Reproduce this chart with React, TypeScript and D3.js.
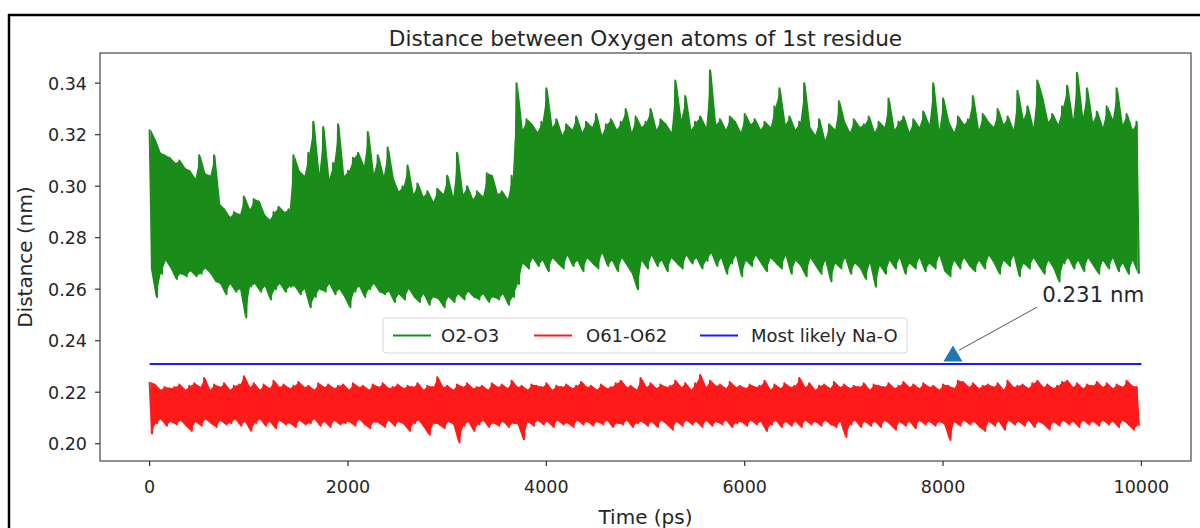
import React from "react";
import * as d3 from "d3";

// ---- data (nm), sampled every 50 ps; "Hi" = upper swing at t, "Lo" = lower swing at t+25 ----
const greenHi = [
  0.322, 0.318, 0.313, 0.312, 0.311, 0.309, 0.310, 0.307, 0.306, 0.303,
  0.312, 0.305, 0.304, 0.312, 0.293, 0.291, 0.288, 0.290, 0.289, 0.296,
  0.291, 0.295, 0.294, 0.289, 0.287, 0.290, 0.292, 0.290, 0.291, 0.312,
  0.306, 0.304, 0.313, 0.325, 0.305, 0.323, 0.303, 0.309, 0.324, 0.304,
  0.306, 0.311, 0.313, 0.308, 0.321, 0.305, 0.312, 0.304, 0.315, 0.303,
  0.298, 0.300, 0.308, 0.297, 0.301, 0.296, 0.298, 0.294, 0.299, 0.297,
  0.304, 0.296, 0.313, 0.297, 0.300, 0.295, 0.298, 0.296, 0.305, 0.304,
  0.297, 0.298, 0.295, 0.304, 0.340, 0.322, 0.326, 0.324, 0.321, 0.325,
  0.338, 0.323, 0.326, 0.320, 0.324, 0.322, 0.327, 0.321, 0.325, 0.323,
  0.328, 0.320, 0.324, 0.326, 0.322, 0.325, 0.330, 0.321, 0.327, 0.323,
  0.325, 0.330, 0.322, 0.326, 0.324, 0.321, 0.341, 0.326, 0.335, 0.322,
  0.325, 0.327, 0.323, 0.345, 0.324, 0.326, 0.322, 0.327, 0.325, 0.321,
  0.328, 0.324, 0.326, 0.322, 0.325, 0.323, 0.331, 0.338, 0.324, 0.327,
  0.322, 0.325, 0.340, 0.323, 0.320, 0.326, 0.318, 0.324, 0.322, 0.333,
  0.325, 0.321, 0.326, 0.323, 0.324, 0.327, 0.321, 0.325, 0.323, 0.334,
  0.322, 0.325, 0.327, 0.321, 0.326, 0.323, 0.329, 0.324, 0.340, 0.322,
  0.334, 0.325, 0.321, 0.327, 0.324, 0.326, 0.335, 0.322, 0.328, 0.325,
  0.323, 0.330, 0.324, 0.327, 0.322, 0.337, 0.326, 0.331, 0.323, 0.341,
  0.334, 0.325, 0.328, 0.324, 0.331, 0.339, 0.326, 0.344, 0.327, 0.338,
  0.325, 0.329, 0.323, 0.331, 0.326, 0.338, 0.324, 0.328, 0.322, 0.325,
];
const greenLo = [
  0.268, 0.257, 0.266, 0.271, 0.268, 0.264, 0.266, 0.265, 0.267, 0.265,
  0.266, 0.268, 0.266, 0.263, 0.262, 0.258, 0.262, 0.259, 0.260, 0.249,
  0.261, 0.262, 0.259, 0.261, 0.256, 0.260, 0.262, 0.259, 0.261, 0.261,
  0.258, 0.260, 0.253, 0.257, 0.260, 0.259, 0.262, 0.258, 0.260, 0.257,
  0.253, 0.259, 0.261, 0.257, 0.260, 0.262, 0.259, 0.258, 0.259, 0.255,
  0.258, 0.256, 0.260, 0.257, 0.255, 0.258, 0.254, 0.257, 0.256, 0.253,
  0.257, 0.255, 0.258, 0.256, 0.259, 0.257, 0.256, 0.258, 0.255, 0.257,
  0.256, 0.258, 0.254, 0.257, 0.262, 0.270, 0.268, 0.272, 0.269, 0.271,
  0.267, 0.272, 0.270, 0.268, 0.273, 0.269, 0.271, 0.267, 0.272, 0.270,
  0.268, 0.274, 0.269, 0.271, 0.267, 0.272, 0.269, 0.266, 0.260, 0.271,
  0.268, 0.273, 0.269, 0.271, 0.267, 0.272, 0.270, 0.268, 0.273, 0.270,
  0.272, 0.268, 0.271, 0.274, 0.269, 0.272, 0.266, 0.270, 0.273, 0.265,
  0.271, 0.269, 0.273, 0.270, 0.267, 0.272, 0.270, 0.268, 0.273, 0.266,
  0.271, 0.269, 0.265, 0.272, 0.269, 0.266, 0.271, 0.263, 0.270, 0.268,
  0.272, 0.266, 0.270, 0.268, 0.264, 0.270, 0.261, 0.269, 0.266, 0.271,
  0.268, 0.272, 0.266, 0.270, 0.268, 0.272, 0.267, 0.270, 0.268, 0.273,
  0.267, 0.265, 0.271, 0.268, 0.272, 0.269, 0.267, 0.271, 0.268, 0.273,
  0.270, 0.266, 0.271, 0.269, 0.273, 0.265, 0.270, 0.268, 0.272, 0.269,
  0.266, 0.271, 0.268, 0.263, 0.270, 0.272, 0.268, 0.271, 0.267, 0.272,
  0.269, 0.266, 0.271, 0.268, 0.272, 0.267, 0.270, 0.266, 0.271, 0.266,
];
const redHi = [
  0.224, 0.223, 0.221, 0.222, 0.2215, 0.222, 0.223, 0.221, 0.2225, 0.2235,
  0.222, 0.2255, 0.221, 0.223, 0.222, 0.2235, 0.221, 0.2225, 0.223, 0.2262,
  0.222, 0.2235, 0.221, 0.223, 0.2215, 0.2245, 0.222, 0.223, 0.2215, 0.2225,
  0.224, 0.222, 0.2225, 0.221, 0.2235, 0.222, 0.223, 0.2215, 0.2225, 0.223,
  0.221, 0.2235, 0.222, 0.2225, 0.221, 0.223, 0.222, 0.2235, 0.2215, 0.222,
  0.223, 0.2215, 0.2225, 0.222, 0.2235, 0.221, 0.2225, 0.222, 0.2258, 0.222,
  0.2225, 0.221, 0.223, 0.222, 0.2235, 0.2215, 0.222, 0.2225, 0.221, 0.2235,
  0.222, 0.223, 0.2215, 0.2245, 0.222, 0.2225, 0.221, 0.223, 0.2225, 0.222,
  0.2235, 0.221, 0.2225, 0.222, 0.223, 0.2215, 0.2225, 0.224, 0.222, 0.2225,
  0.221, 0.223, 0.2215, 0.222, 0.2235, 0.2245, 0.222, 0.2225, 0.221, 0.2255,
  0.222, 0.2235, 0.2215, 0.223, 0.222, 0.2225, 0.2245, 0.222, 0.2235, 0.221,
  0.2235, 0.2267, 0.222, 0.2245, 0.2225, 0.223, 0.2215, 0.224, 0.222, 0.2225,
  0.2215, 0.223, 0.222, 0.2225, 0.2245, 0.221, 0.223, 0.2215, 0.2235, 0.222,
  0.2225, 0.2255, 0.222, 0.2235, 0.221, 0.2225, 0.223, 0.2215, 0.224, 0.222,
  0.223, 0.2215, 0.2225, 0.222, 0.2235, 0.221, 0.223, 0.2225, 0.222, 0.2235,
  0.2215, 0.2225, 0.224, 0.222, 0.223, 0.2215, 0.2235, 0.222, 0.2225, 0.221,
  0.223, 0.2225, 0.2215, 0.2245, 0.224, 0.222, 0.2235, 0.2215, 0.2225, 0.223,
  0.222, 0.2235, 0.221, 0.2245, 0.222, 0.2225, 0.223, 0.2215, 0.2235, 0.2245,
  0.222, 0.223, 0.2215, 0.2225, 0.224, 0.2245, 0.222, 0.2235, 0.2215, 0.223,
  0.2225, 0.224, 0.222, 0.2235, 0.2215, 0.223, 0.222, 0.2245, 0.2225, 0.222,
];
const redLo = [
  0.204, 0.208, 0.2095, 0.207, 0.2085, 0.2075, 0.209, 0.207, 0.205, 0.2085,
  0.207, 0.2095, 0.208, 0.2065, 0.209, 0.2075, 0.208, 0.2095, 0.207, 0.2085,
  0.205, 0.208, 0.2095, 0.207, 0.2085, 0.206, 0.209, 0.2075, 0.208, 0.2065,
  0.209, 0.2075, 0.208, 0.2095, 0.207, 0.2085, 0.2065, 0.209, 0.2075, 0.208,
  0.2085, 0.207, 0.2095, 0.2075, 0.206, 0.2085, 0.208, 0.2065, 0.209, 0.207,
  0.2085, 0.2075, 0.205, 0.208, 0.209, 0.2065, 0.2035, 0.208, 0.2075, 0.206,
  0.2085, 0.2075, 0.2005, 0.207, 0.2085, 0.205, 0.2075, 0.209, 0.2065, 0.208,
  0.207, 0.2085, 0.2065, 0.208, 0.2075, 0.2018, 0.2085, 0.207, 0.209, 0.2075,
  0.2085, 0.2065, 0.209, 0.2075, 0.208, 0.2065, 0.209, 0.2075, 0.2085, 0.207,
  0.2085, 0.2075, 0.209, 0.2065, 0.208, 0.2075, 0.209, 0.2065, 0.208, 0.2085,
  0.207, 0.2085, 0.2065, 0.209, 0.2075, 0.2055, 0.2085, 0.207, 0.209, 0.2075,
  0.2085, 0.2065, 0.209, 0.207, 0.2085, 0.2075, 0.209, 0.2065, 0.208, 0.2085,
  0.207, 0.209, 0.2075, 0.2085, 0.205, 0.2075, 0.209, 0.2065, 0.2085, 0.207,
  0.2085, 0.2065, 0.209, 0.2075, 0.2085, 0.207, 0.209, 0.2075, 0.2065, 0.2085,
  0.2026, 0.2075, 0.209, 0.2065, 0.2085, 0.207, 0.2085, 0.2065, 0.209, 0.2075,
  0.2055, 0.2085, 0.207, 0.2085, 0.206, 0.209, 0.2075, 0.2085, 0.207, 0.2085,
  0.2075, 0.2015, 0.2085, 0.207, 0.209, 0.2075, 0.2085, 0.2065, 0.205, 0.2085,
  0.207, 0.2085, 0.2055, 0.209, 0.2075, 0.2085, 0.207, 0.209, 0.2065, 0.2085,
  0.2075, 0.2055, 0.2085, 0.207, 0.209, 0.2075, 0.2085, 0.2065, 0.209, 0.2075,
  0.2085, 0.207, 0.209, 0.2075, 0.2085, 0.2065, 0.209, 0.2075, 0.2055, 0.207,
];
const naOValue = 0.231;
const sampleStep = 50;
const xTicks = [0, 2000, 4000, 6000, 8000, 10000];
const yTicks = [0.2, 0.22, 0.24, 0.26, 0.28, 0.3, 0.32, 0.34];
const legendLabels = ["O2-O3", "O61-O62", "Most likely Na-O"];
const annotation = { label: "0.231 nm", x: 8100, y: 0.235, textX: 9000, textY: 0.255 };
const title = "Distance between Oxygen atoms of 1st residue";
const xLabel = "Time (ps)";
const yLabel = "Distance (nm)";

const W = 1200;
const H = 528;
const L = 100, R = 1191, T = 53, B = 461;
const FONT = "DejaVu Sans, sans-serif";
const GREEN = "#1a8c1a";
const RED = "#ff1a1a";
const BLUE = "#1a1aff";
const TXT = "#262626";

type Sample = { t: number; hi: number; lo: number };

function samples(hi: number[], lo: number[]): Sample[] {
  const times = d3.range(0, hi.length * sampleStep, sampleStep);
  return times.map((t, i) => ({ t, hi: hi[i], lo: lo[i] }));
}

function zigzag(s: Sample[]): [number, number][] {
  const pts: [number, number][] = [];
  s.forEach((d) => {
    pts.push([d.t, d.hi]);
    pts.push([d.t + sampleStep / 2, d.lo]);
  });
  return pts;
}

export default function App() {
  const x = d3.scaleLinear().domain([-500, 10500]).range([L, R]);
  const y = d3.scaleLinear().domain([0.1933, 0.3517]).range([B, T]);
  const line = d3
    .line<[number, number]>()
    .x((d) => x(d[0]))
    .y((d) => y(d[1]));
  const band = d3
    .area<Sample>()
    .x((d) => x(d.t + sampleStep / 4))
    .y0((d) => y(d.lo))
    .y1((d) => y(d.hi));

  const gS = samples(greenHi, greenLo);
  const rS = samples(redHi, redLo);
  const bPts: [number, number][] = [
    [0, naOValue],
    [10000, naOValue],
  ];

  const mx = x(annotation.x);
  const my = y(annotation.y);
  const tx = x(annotation.textX);
  const ty = y(annotation.textY);
  const sx = tx - 5;
  const sy = ty + 5;
  const dx = sx - mx;
  const dy = sy - my;
  const dl = Math.hypot(dx, dy);
  const ex = mx + (dx / dl) * 7;
  const ey = my + (dy / dl) * 7;
  const triPath = `M${mx},${my - 8} L${mx - 9.5},${my + 8} L${mx + 9.5},${my + 8} Z`;

  const legendItems = [
    { label: legendLabels[0], color: GREEN, x0: 393, tx: 441 },
    { label: legendLabels[1], color: RED, x0: 534, tx: 586 },
    { label: legendLabels[2], color: BLUE, x0: 700, tx: 751 },
  ];
  const legY = 335.5;

  return (
    <svg
      width={W}
      height={H}
      style={{ position: "absolute", left: 0, top: 0, background: "#fff" }}
      fontFamily={FONT}
    >
      <rect x={0} y={0} width={W} height={H} fill="#fff" />
      {/* outer frame */}
      <line x1={8} y1={15} x2={W} y2={15} stroke="#000" strokeWidth={2.5} />
      <line x1={9} y1={14} x2={9} y2={H} stroke="#000" strokeWidth={2.5} />

      {/* title */}
      <text x={(L + R) / 2} y={46} textAnchor="middle" fontSize={21.6} fill={TXT}>
        {title}
      </text>

      {/* data */}
      <path d={band(gS) || ""} fill={GREEN} />
      <path d={line(zigzag(gS)) || ""} fill="none" stroke={GREEN} strokeWidth={2} strokeLinejoin="round" />
      <path d={band(rS) || ""} fill={RED} />
      <path d={line(zigzag(rS)) || ""} fill="none" stroke={RED} strokeWidth={2} strokeLinejoin="round" />
      <path d={line(bPts) || ""} fill="none" stroke={BLUE} strokeWidth={2} />

      {/* annotation */}
      <line x1={sx} y1={sy} x2={ex} y2={ey} stroke="#555" strokeWidth={1} />
      <path d={triPath} fill="#1f77b4" />
      <text x={tx} y={ty} fontSize={21.3} fill={TXT}>
        {annotation.label}
      </text>

      {/* legend */}
      <rect x={383} y={318} width={524} height={35} rx={3} fill="#fff" fillOpacity={0.8} stroke="#d6d6d6" strokeWidth={1} />
      {legendItems.map((it) => (
        <g key={it.label}>
          <line x1={it.x0} x2={it.x0 + 38} y1={legY} y2={legY} stroke={it.color} strokeWidth={2} />
          <text x={it.tx} y={legY + 6.5} fontSize={18} fill={TXT}>
            {it.label}
          </text>
        </g>
      ))}

      {/* axes frame */}
      <rect x={L} y={T} width={R - L} height={B - T} fill="none" stroke="#555" strokeWidth={1.3} />

      {/* y ticks */}
      {yTicks.map((v) => (
        <g key={v}>
          <line x1={L - 5} x2={L} y1={y(v)} y2={y(v)} stroke="#333" strokeWidth={1.2} />
          <text x={L - 13} y={y(v) + 6.5} textAnchor="end" fontSize={17.5} fill={TXT}>
            {v.toFixed(2)}
          </text>
        </g>
      ))}
      {/* x ticks */}
      {xTicks.map((v) => (
        <g key={v}>
          <line x1={x(v)} x2={x(v)} y1={B} y2={B + 5} stroke="#333" strokeWidth={1.2} />
          <text x={x(v)} y={493} textAnchor="middle" fontSize={17.5} fill={TXT}>
            {v}
          </text>
        </g>
      ))}

      {/* axis labels */}
      <text x={(L + R) / 2} y={524} textAnchor="middle" fontSize={20} fill={TXT}>
        {xLabel}
      </text>
      <text
        transform={`translate(32,${(T + B) / 2}) rotate(-90)`}
        textAnchor="middle"
        fontSize={20}
        fill={TXT}
      >
        {yLabel}
      </text>
    </svg>
  );
}
